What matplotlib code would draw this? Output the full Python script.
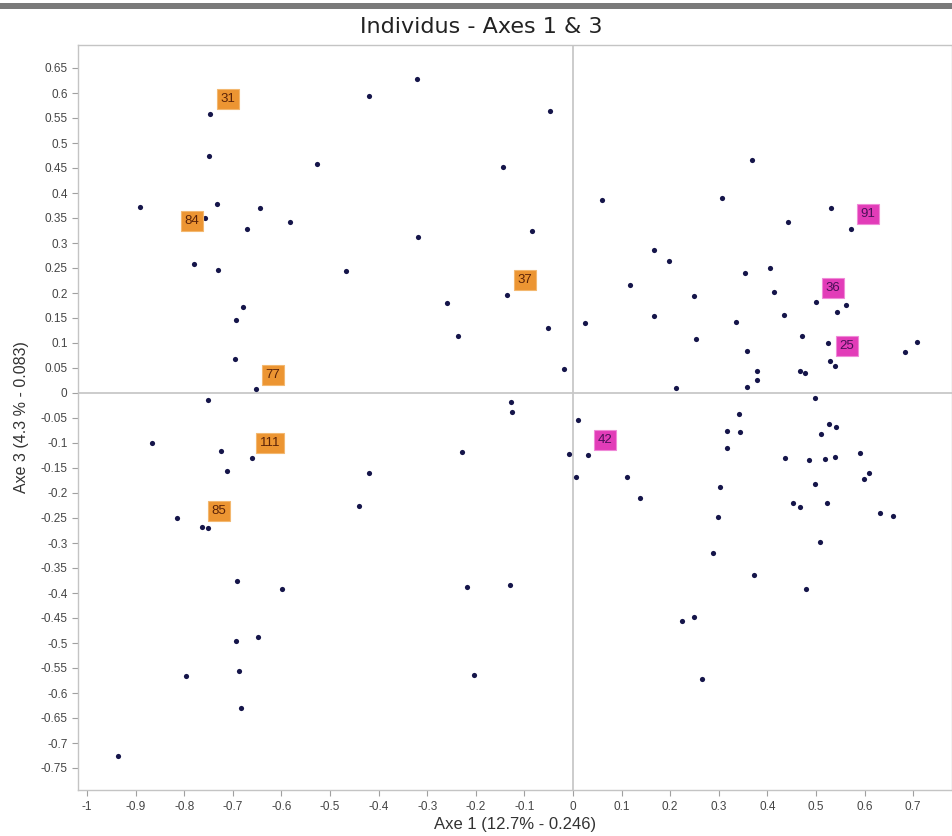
import matplotlib
matplotlib.use("Agg")
import matplotlib.pyplot as plt
from matplotlib.patches import Rectangle
import numpy as np

# Individuals coordinates (Axe 1, Axe 3)
axe1 = [
    -0.747, -0.749, -0.891, -0.733, -0.644, -0.757, -0.671, -0.582, -0.780, -0.730,
    -0.679, -0.693, -0.695, -0.652, -0.751, -0.866, -0.724, -0.660, -0.712, -0.815,
    -0.763, -0.751, -0.691, -0.599, -0.693, -0.648, -0.687, -0.796, -0.683, -0.936,
    -0.321, -0.420, -0.047, -0.527, -0.144, -0.084, -0.319, -0.467, -0.136, -0.259,
    -0.237, -0.051, 0.025, -0.019, -0.128, -0.126, 0.010, -0.228, -0.008, 0.031,
    0.006, 0.111, 0.138, -0.420, -0.440, -0.218, -0.130, -0.204,
    0.368, 0.060, 0.307, 0.531, 0.572, 0.442, 0.167, 0.198, 0.117, 0.354,
    0.405, 0.249, 0.414, 0.500, 0.562, 0.543, 0.167, 0.335, 0.434, 0.253,
    0.471, 0.358, 0.525, 0.683, 0.708, 0.529, 0.539, 0.467, 0.477, 0.379,
    0.379, 0.358, 0.212,
    0.498, 0.342, 0.317, 0.344, 0.317, 0.527, 0.541, 0.510, 0.436, 0.486,
    0.519, 0.539, 0.591, 0.609, 0.599, 0.498, 0.302, 0.298, 0.453, 0.467,
    0.523, 0.632, 0.658, 0.508, 0.288, 0.372, 0.479, 0.224, 0.249, 0.265,
]
axe3 = [
    0.558, 0.474, 0.372, 0.378, 0.370, 0.350, 0.328, 0.342, 0.258, 0.246,
    0.172, 0.146, 0.068, 0.008, -0.014, -0.100, -0.116, -0.130, -0.156, -0.250,
    -0.268, -0.270, -0.376, -0.392, -0.496, -0.488, -0.556, -0.566, -0.630, -0.726,
    0.628, 0.594, 0.564, 0.458, 0.452, 0.324, 0.312, 0.244, 0.196, 0.180,
    0.114, 0.130, 0.140, 0.048, -0.018, -0.038, -0.054, -0.118, -0.122, -0.124,
    -0.168, -0.168, -0.210, -0.160, -0.226, -0.388, -0.384, -0.564,
    0.466, 0.386, 0.390, 0.370, 0.328, 0.342, 0.286, 0.264, 0.216, 0.240,
    0.250, 0.194, 0.202, 0.182, 0.176, 0.162, 0.154, 0.142, 0.156, 0.108,
    0.114, 0.084, 0.100, 0.082, 0.102, 0.064, 0.054, 0.044, 0.040, 0.044,
    0.026, 0.012, 0.010,
    -0.010, -0.042, -0.076, -0.078, -0.110, -0.062, -0.068, -0.082, -0.130, -0.134,
    -0.132, -0.128, -0.120, -0.160, -0.172, -0.182, -0.188, -0.248, -0.220, -0.228,
    -0.220, -0.240, -0.246, -0.298, -0.320, -0.364, -0.392, -0.456, -0.448, -0.572,
]

# Labelled individuals
labels_orange = ["31", "84", "37", "77", "111", "85"]
lab_o_x = [-0.710, -0.784, -0.099, -0.617, -0.623, -0.728]
lab_o_y = [0.588, 0.344, 0.226, 0.036, -0.100, -0.236]
labels_pink = ["91", "36", "25", "42"]
lab_p_x = [0.607, 0.535, 0.564, 0.066]
lab_p_y = [0.358, 0.210, 0.094, -0.094]

xticks = [-1, -0.9, -0.8, -0.7, -0.6, -0.5, -0.4, -0.3, -0.2, -0.1, 0, 0.1, 0.2, 0.3, 0.4, 0.5, 0.6, 0.7]
yticks = [0.65, 0.6, 0.55, 0.5, 0.45, 0.4, 0.35, 0.3, 0.25, 0.2, 0.15, 0.1, 0.05, 0,
          -0.05, -0.1, -0.15, -0.2, -0.25, -0.3, -0.35, -0.4, -0.45, -0.5, -0.55, -0.6,
          -0.65, -0.7, -0.75]

def fmt(v):
    if abs(v) < 1e-9:
        return "0"
    return "%g" % v

FONT = "Liberation Sans"

W, H = 952, 836
fig = plt.figure(figsize=(W / 100, H / 100), dpi=100)
fig.patch.set_facecolor("white")
# top gray bar
fig.patches.append(Rectangle((0, (H - 9) / H), 1, 6 / H, transform=fig.transFigure,
                             facecolor="#7a7a7a", edgecolor="none"))

ax = fig.add_axes([78 / W, (H - 790) / H, (W - 78) / W, (790 - 45) / H])
ax.set_xlim(-1.0185, 0.78)
ax.set_ylim(-0.794, 0.696)

ax.axhline(0, color="#c8c8c8", lw=1.3, zorder=1)
ax.axvline(0, color="#c8c8c8", lw=1.3, zorder=1)

ax.scatter(axe1, axe3, s=14, color="#15154a", zorder=3, linewidths=0)

for t, x, y in zip(labels_orange, lab_o_x, lab_o_y):
    ax.text(x, y, t, ha="center", va="center", fontsize=9.5, color="#5a2208",
            family=FONT, zorder=4,
            bbox=dict(boxstyle="square,pad=0.28", facecolor="#ec9532", edgecolor="#f3b870", lw=0.8))
for t, x, y in zip(labels_pink, lab_p_x, lab_p_y):
    ax.text(x, y, t, ha="center", va="center", fontsize=9.5, color="#4a1058",
            family=FONT, zorder=4,
            bbox=dict(boxstyle="square,pad=0.28", facecolor="#e23cb8", edgecolor="#f08ad8", lw=0.8))

ax.set_xticks(xticks)
ax.set_xticklabels([fmt(v) for v in xticks])
ax.set_yticks(yticks)
ax.set_yticklabels([fmt(v) for v in yticks])
ax.tick_params(axis="both", labelsize=8.5, colors="#a0a0a0", labelcolor="#444444",
               length=4, width=0.8, direction="out")
ax.tick_params(axis="x", pad=4)
for lab in ax.get_xticklabels() + ax.get_yticklabels():
    lab.set_family(FONT)

for s in ax.spines.values():
    s.set_color("#c4c4c4")
    s.set_linewidth(1.0)

ax.set_xlabel("Axe 1 (12.7% - 0.246)", fontsize=12, color="#333333",
              family=FONT, labelpad=3)
ax.set_ylabel("Axe 3 (4.3 % - 0.083)", fontsize=11.5, color="#333333",
              family=FONT, labelpad=8)

fig.text(481 / W, (H - 27) / H, "Individus - Axes 1 & 3", ha="center", va="center",
         fontsize=16, color="#222222", family="DejaVu Sans")

fig.savefig("out.png", dpi=100)
